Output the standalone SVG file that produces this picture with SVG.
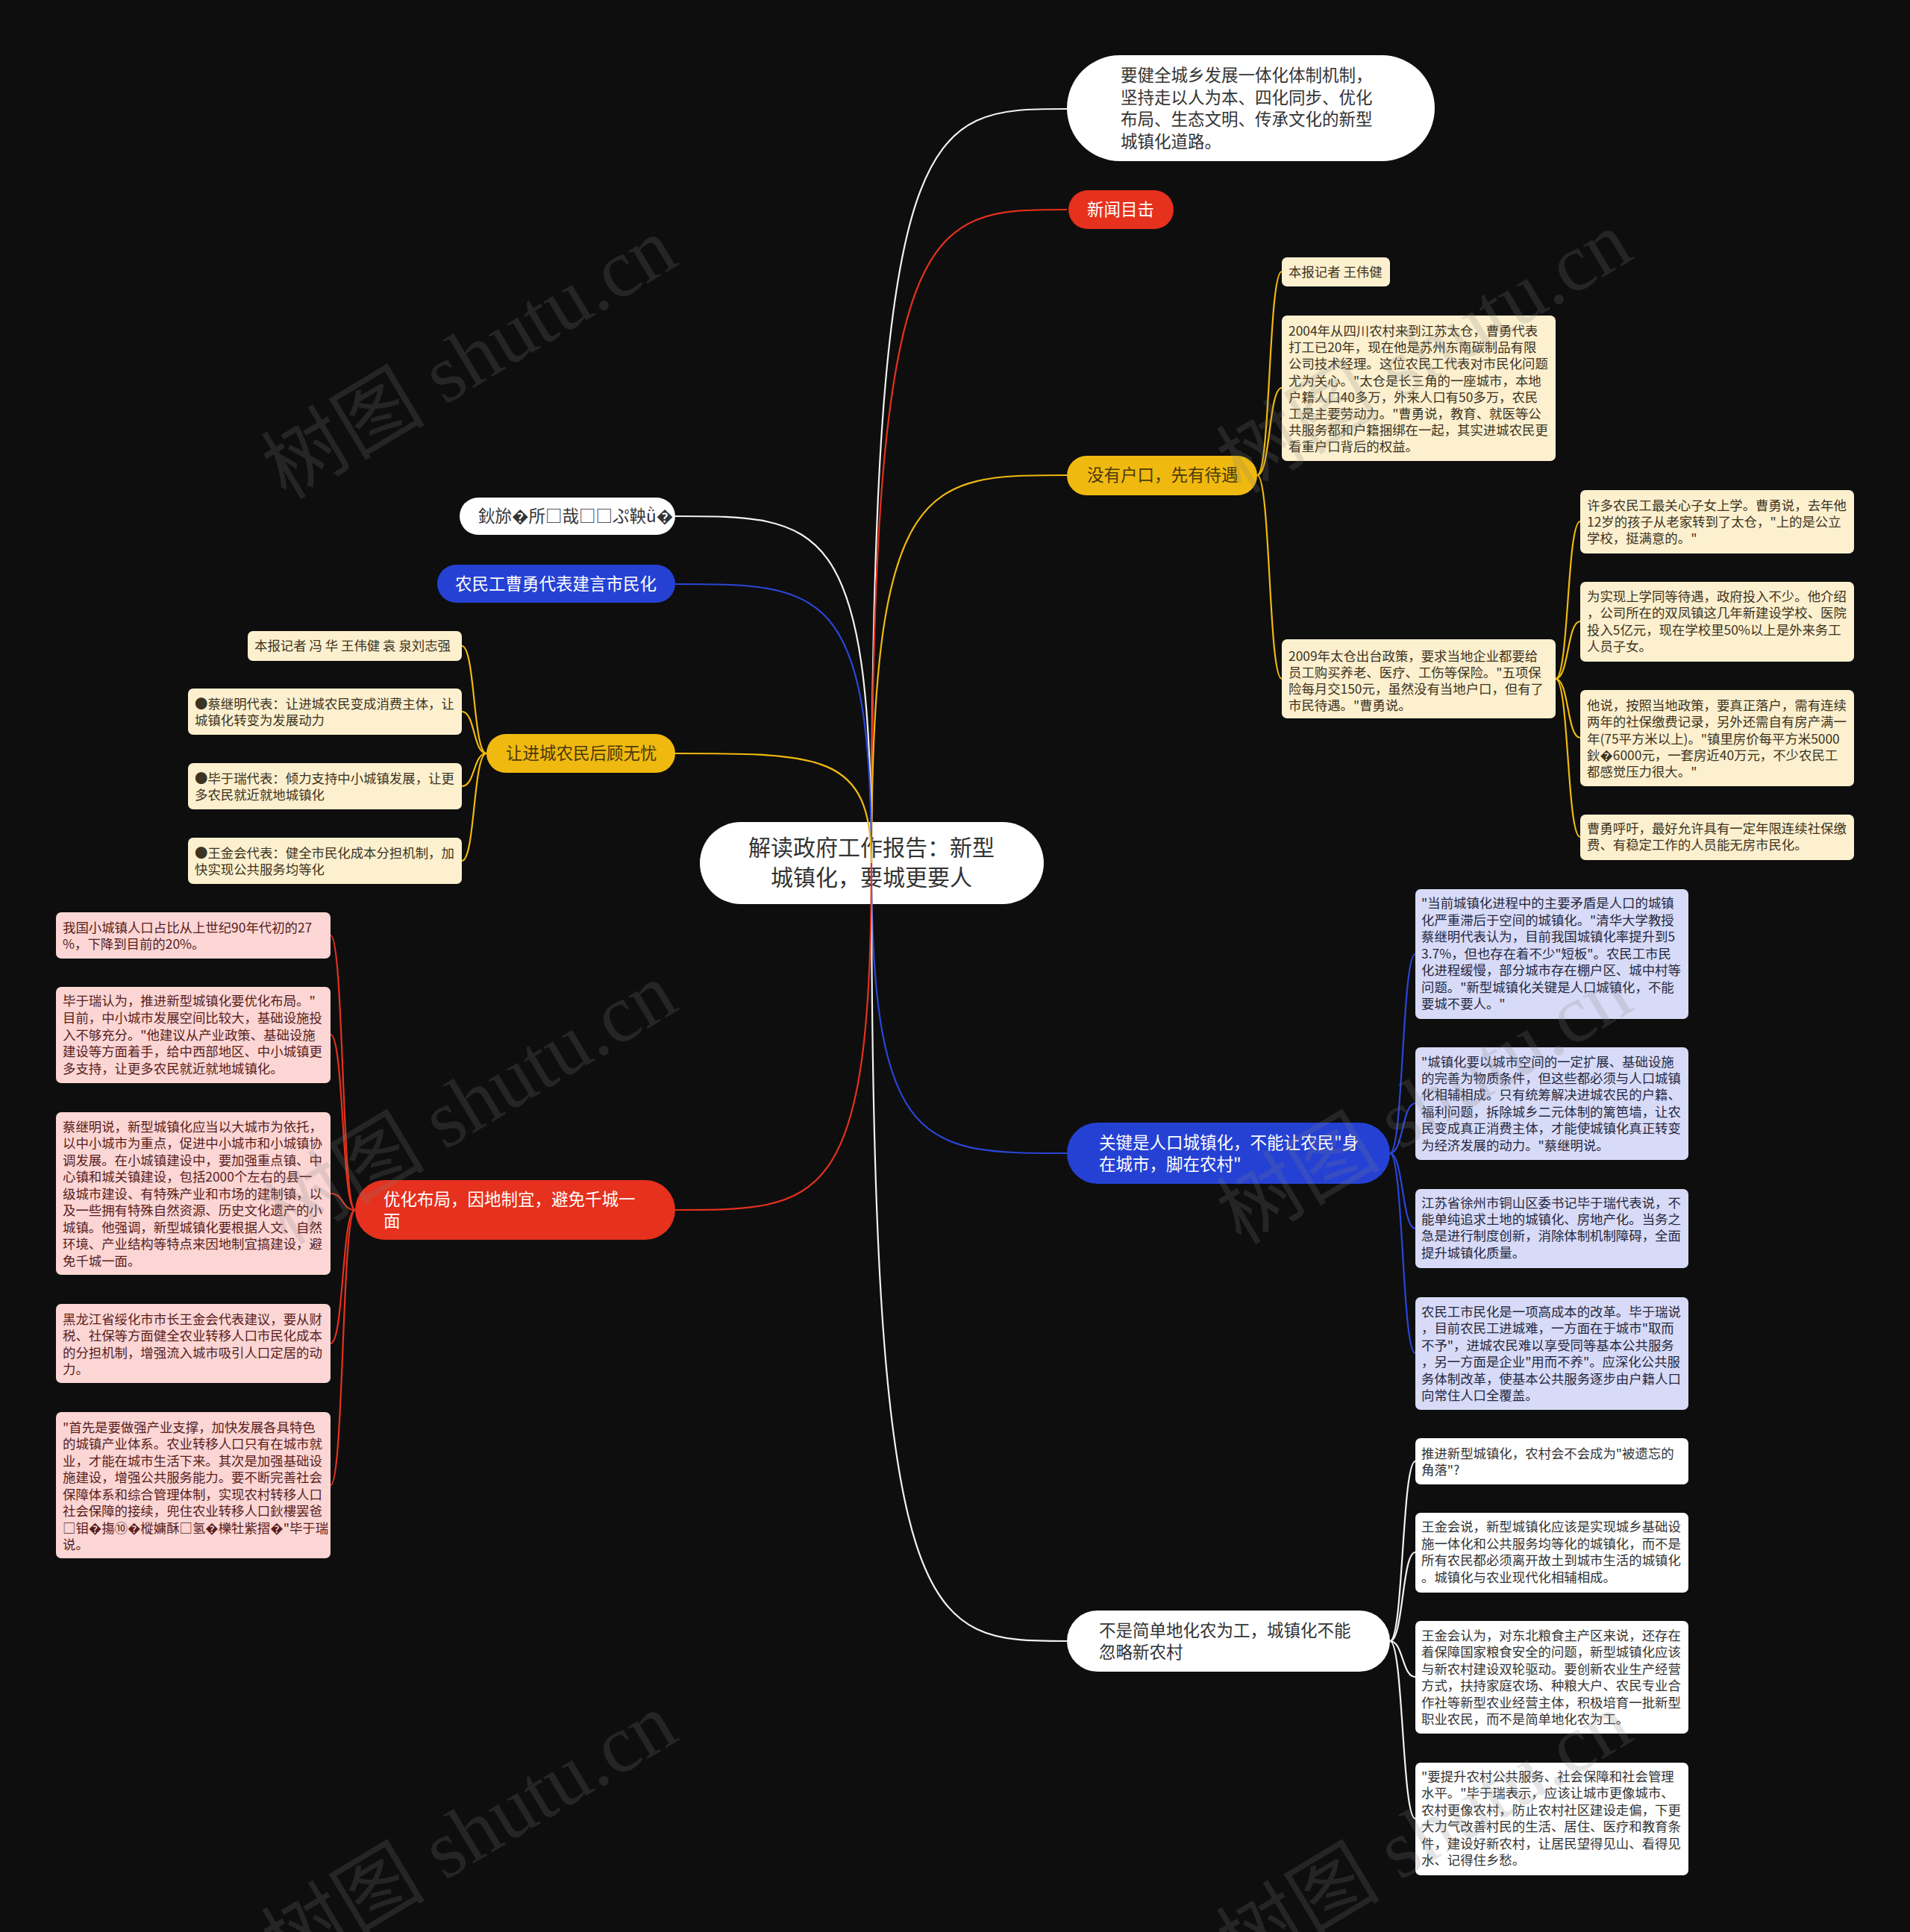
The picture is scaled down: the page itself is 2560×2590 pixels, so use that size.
<svg xmlns="http://www.w3.org/2000/svg" width="2560" height="2590" viewBox="0 0 2560 2590">
<style>
text{font-family:"Noto Sans CJK SC","Noto Sans",sans-serif;}
.main{font-size:22.5px;}
.leaf{font-size:17.4px;}
.center{font-size:30px;fill:#333333;}
.nw{fill:#ffffff;}
.nr{fill:#e5311d;}
.ny{fill:#f0b90f;}
.nb{fill:#2541d4;}
.td{fill:#333333;}
.tw{fill:#ffffff;}
.ty{fill:#4a3a0c;}
.ly{fill:#fcf0cf;}
.lb{fill:#d8dbf7;}
.lp{fill:#fbd6d4;}
.lw{fill:#ffffff;}
.tly{fill:#3c3321;}
.tlb{fill:#25283f;}
.tlp{fill:#581d1d;}
.tlw{fill:#333333;}
.c{fill:none;stroke-width:2.2;}
.cw{stroke:#f2f2f2;}
.cr{stroke:#e5311d;}
.cy{stroke:#f0b90f;}
.cb{stroke:#2a46d8;}
.wm{font-family:"Liberation Serif","Noto Sans CJK SC",serif;font-size:110px;fill:#808080;opacity:0.2;}
</style>
<rect x="0" y="0" width="2560" height="2590" fill="#0e0e0e"/>

<g id="center">
<rect x="938" y="1102" width="461" height="110" rx="55" class="nw"/>
<text class="center" text-anchor="middle"><tspan x="1168" y="1147">解读政府工作报告：新型</tspan><tspan x="1168" y="1187">城镇化，要城更要人</tspan></text>
</g>

<g id="n-top">
<rect x="1430" y="74" width="493" height="142" rx="71" class="nw"/>
<text class="main td"><tspan x="1502" y="109">要健全城乡发展一体化体制机制，</tspan><tspan x="1502" y="139">坚持走以人为本、四化同步、优化</tspan><tspan x="1502" y="168">布局、生态文明、传承文化的新型</tspan><tspan x="1502" y="198">城镇化道路。</tspan></text>
</g>

<g id="n-news">
<rect x="1432" y="255" width="141" height="52" rx="26" class="nr"/>
<text class="main tw" x="1457" y="289">新闻目击</text>
</g>

<g id="n-hukou">
<rect x="1430" y="611" width="255" height="53" rx="26.5" class="ny"/>
<text class="main ty" x="1457" y="645">没有户口，先有待遇</text>
</g>

<g id="l-hk1"><rect x="1718" y="345" width="145" height="39" rx="7" class="ly"/><text class="leaf tly" x="1727" y="371">本报记者 王伟健</text></g>
<g id="l-hk2"><rect x="1718" y="423" width="367" height="195" rx="7" class="ly"/><text class="leaf tly"><tspan x="1727" y="450">2004年从四川农村来到江苏太仓，曹勇代表</tspan><tspan x="1727" y="472">打工已20年，现在他是苏州东南碳制品有限</tspan><tspan x="1727" y="494">公司技术经理。这位农民工代表对市民化问题</tspan><tspan x="1727" y="517">尤为关心。"太仓是长三角的一座城市，本地</tspan><tspan x="1727" y="539">户籍人口40多万，外来人口有50多万，农民</tspan><tspan x="1727" y="561">工是主要劳动力。"曹勇说，教育、就医等公</tspan><tspan x="1727" y="583">共服务都和户籍捆绑在一起，其实进城农民更</tspan><tspan x="1727" y="605">看重户口背后的权益。</tspan></text></g>
<g id="l-hk3"><rect x="1718" y="857" width="367" height="106" rx="7" class="ly"/><text class="leaf tly"><tspan x="1727" y="886">2009年太仓出台政策，要求当地企业都要给</tspan><tspan x="1727" y="908">员工购买养老、医疗、工伤等保险。"五项保</tspan><tspan x="1727" y="930">险每月交150元，虽然没有当地户口，但有了</tspan><tspan x="1727" y="952">市民待遇。"曹勇说。</tspan></text></g>

<g id="l-hk4"><rect x="2118" y="657" width="367" height="85" rx="7" class="ly"/><text class="leaf tly"><tspan x="2127" y="684">许多农民工最关心子女上学。曹勇说，去年他</tspan><tspan x="2127" y="706">12岁的孩子从老家转到了太仓，"上的是公立</tspan><tspan x="2127" y="728">学校，挺满意的。"</tspan></text></g>
<g id="l-hk5"><rect x="2118" y="780" width="367" height="107" rx="7" class="ly"/><text class="leaf tly"><tspan x="2127" y="806">为实现上学同等待遇，政府投入不少。他介绍</tspan><tspan x="2127" y="828">，公司所在的双凤镇这几年新建设学校、医院</tspan><tspan x="2127" y="851">投入5亿元，现在学校里50%以上是外来务工</tspan><tspan x="2127" y="873">人员子女。</tspan></text></g>
<g id="l-hk6"><rect x="2118" y="925" width="367" height="129" rx="7" class="ly"/><text class="leaf tly"><tspan x="2127" y="952">他说，按照当地政策，要真正落户，需有连续</tspan><tspan x="2127" y="974">两年的社保缴费记录，另外还需自有房产满一</tspan><tspan x="2127" y="997">年(75平方米以上)。"镇里房价每平方米5000</tspan><tspan x="2127" y="1019">鈥�6000元，一套房近40万元，不少农民工</tspan><tspan x="2127" y="1041">都感觉压力很大。"</tspan></text></g>
<g id="l-hk7"><rect x="2118" y="1092" width="367" height="61" rx="7" class="ly"/><text class="leaf tly"><tspan x="2127" y="1117">曹勇呼吁，最好允许具有一定年限连续社保缴</tspan><tspan x="2127" y="1139">费、有稳定工作的人员能无房市民化。</tspan></text></g>

<g id="n-key">
<rect x="1430" y="1505" width="433" height="82" rx="41" class="nb"/>
<text class="main tw"><tspan x="1473" y="1540">关键是人口城镇化，不能让农民"身</tspan><tspan x="1473" y="1569">在城市，脚在农村"</tspan></text>
</g>

<g id="l-k1"><rect x="1897" y="1192" width="366" height="174" rx="7" class="lb"/><text class="leaf tlb"><tspan x="1905" y="1217">"当前城镇化进程中的主要矛盾是人口的城镇</tspan><tspan x="1905" y="1240">化严重滞后于空间的城镇化。"清华大学教授</tspan><tspan x="1905" y="1262">蔡继明代表认为，目前我国城镇化率提升到5</tspan><tspan x="1905" y="1285">3.7%，但也存在着不少"短板"。农民工市民</tspan><tspan x="1905" y="1307">化进程缓慢，部分城市存在棚户区、城中村等</tspan><tspan x="1905" y="1330">问题。"新型城镇化关键是人口城镇化，不能</tspan><tspan x="1905" y="1352">要城不要人。"</tspan></text></g>
<g id="l-k2"><rect x="1897" y="1404" width="366" height="151" rx="7" class="lb"/><text class="leaf tlb"><tspan x="1905" y="1430">"城镇化要以城市空间的一定扩展、基础设施</tspan><tspan x="1905" y="1452">的完善为物质条件，但这些都必须与人口城镇</tspan><tspan x="1905" y="1474">化相辅相成。只有统筹解决进城农民的户籍、</tspan><tspan x="1905" y="1497">福利问题，拆除城乡二元体制的篱笆墙，让农</tspan><tspan x="1905" y="1519">民变成真正消费主体，才能使城镇化真正转变</tspan><tspan x="1905" y="1542">为经济发展的动力。"蔡继明说。</tspan></text></g>
<g id="l-k3"><rect x="1897" y="1594" width="366" height="106" rx="7" class="lb"/><text class="leaf tlb"><tspan x="1905" y="1619">江苏省徐州市铜山区委书记毕于瑞代表说，不</tspan><tspan x="1905" y="1641">能单纯追求土地的城镇化、房地产化。当务之</tspan><tspan x="1905" y="1663">急是进行制度创新，消除体制机制障碍，全面</tspan><tspan x="1905" y="1686">提升城镇化质量。</tspan></text></g>
<g id="l-k4"><rect x="1897" y="1739" width="366" height="151" rx="7" class="lb"/><text class="leaf tlb"><tspan x="1905" y="1765">农民工市民化是一项高成本的改革。毕于瑞说</tspan><tspan x="1905" y="1787">，目前农民工进城难，一方面在于城市"取而</tspan><tspan x="1905" y="1810">不予"，进城农民难以享受同等基本公共服务</tspan><tspan x="1905" y="1832">，另一方面是企业"用而不养"。应深化公共服</tspan><tspan x="1905" y="1855">务体制改革，使基本公共服务逐步由户籍人口</tspan><tspan x="1905" y="1877">向常住人口全覆盖。</tspan></text></g>

<g id="n-rural">
<rect x="1430" y="2159" width="433" height="82" rx="41" class="nw"/>
<text class="main td"><tspan x="1473" y="2194">不是简单地化农为工，城镇化不能</tspan><tspan x="1473" y="2223">忽略新农村</tspan></text>
</g>

<g id="l-r1"><rect x="1897" y="1928" width="366" height="62" rx="7" class="lw"/><text class="leaf tlw"><tspan x="1905" y="1955">推进新型城镇化，农村会不会成为"被遗忘的</tspan><tspan x="1905" y="1977">角落"?</tspan></text></g>
<g id="l-r2"><rect x="1897" y="2028" width="366" height="107" rx="7" class="lw"/><text class="leaf tlw"><tspan x="1905" y="2053">王金会说，新型城镇化应该是实现城乡基础设</tspan><tspan x="1905" y="2076">施一体化和公共服务均等化的城镇化，而不是</tspan><tspan x="1905" y="2098">所有农民都必须离开故土到城市生活的城镇化</tspan><tspan x="1905" y="2121">。城镇化与农业现代化相辅相成。</tspan></text></g>
<g id="l-r3"><rect x="1897" y="2173" width="366" height="151" rx="7" class="lw"/><text class="leaf tlw"><tspan x="1905" y="2199">王金会认为，对东北粮食主产区来说，还存在</tspan><tspan x="1905" y="2221">着保障国家粮食安全的问题，新型城镇化应该</tspan><tspan x="1905" y="2244">与新农村建设双轮驱动。要创新农业生产经营</tspan><tspan x="1905" y="2266">方式，扶持家庭农场、种粮大户、农民专业合</tspan><tspan x="1905" y="2289">作社等新型农业经营主体，积极培育一批新型</tspan><tspan x="1905" y="2311">职业农民，而不是简单地化农为工。</tspan></text></g>
<g id="l-r4"><rect x="1897" y="2363" width="366" height="151" rx="7" class="lw"/><text class="leaf tlw"><tspan x="1905" y="2388">"要提升农村公共服务、社会保障和社会管理</tspan><tspan x="1905" y="2410">水平。"毕于瑞表示，应该让城市更像城市、</tspan><tspan x="1905" y="2433">农村更像农村，防止农村社区建设走偏，下更</tspan><tspan x="1905" y="2455">大力气改善村民的生活、居住、医疗和教育条</tspan><tspan x="1905" y="2478">件，建设好新农村，让居民望得见山、看得见</tspan><tspan x="1905" y="2500">水、记得住乡愁。</tspan></text></g>

<g id="n-garbled">
<rect x="616" y="667" width="289" height="50" rx="25" class="nw"/>
<text class="main td" x="641" y="700">鈥旀�所□哉□□ぷ鞅ǜ�</text>
</g>

<g id="n-caoyong">
<rect x="586" y="757" width="319" height="51" rx="25.5" class="nb"/>
<text class="main tw" x="610" y="791">农民工曹勇代表建言市民化</text>
</g>

<g id="n-worry">
<rect x="652" y="984" width="253" height="52" rx="26" class="ny"/>
<text class="main ty" x="678" y="1018">让进城农民后顾无忧</text>
</g>

<g id="l-w1"><rect x="332" y="846" width="287" height="40" rx="7" class="ly"/><text class="leaf tly" x="341" y="872">本报记者 冯 华 王伟健 袁 泉刘志强</text></g>
<g id="l-w2"><rect x="252" y="923" width="367" height="62" rx="7" class="ly"/><text class="leaf tly"><tspan x="261" y="950">●蔡继明代表：让进城农民变成消费主体，让</tspan><tspan x="261" y="972">城镇化转变为发展动力</tspan></text></g>
<g id="l-w3"><rect x="252" y="1023" width="367" height="62" rx="7" class="ly"/><text class="leaf tly"><tspan x="261" y="1050">●毕于瑞代表：倾力支持中小城镇发展，让更</tspan><tspan x="261" y="1072">多农民就近就地城镇化</tspan></text></g>
<g id="l-w4"><rect x="252" y="1123" width="367" height="62" rx="7" class="ly"/><text class="leaf tly"><tspan x="261" y="1150">●王金会代表：健全市民化成本分担机制，加</tspan><tspan x="261" y="1172">快实现公共服务均等化</tspan></text></g>

<g id="n-layout">
<rect x="476" y="1582" width="429" height="80" rx="40" class="nr"/>
<text class="main tw"><tspan x="514" y="1616">优化布局，因地制宜，避免千城一</tspan><tspan x="514" y="1645">面</tspan></text>
</g>

<g id="l-p1"><rect x="75" y="1223" width="368" height="62" rx="7" class="lp"/><text class="leaf tlp"><tspan x="84" y="1250">我国小城镇人口占比从上世纪90年代初的27</tspan><tspan x="84" y="1272">%，下降到目前的20%。</tspan></text></g>
<g id="l-p2"><rect x="75" y="1323" width="368" height="129" rx="7" class="lp"/><text class="leaf tlp"><tspan x="84" y="1348">毕于瑞认为，推进新型城镇化要优化布局。"</tspan><tspan x="84" y="1371">目前，中小城市发展空间比较大，基础设施投</tspan><tspan x="84" y="1394">入不够充分。"他建议从产业政策、基础设施</tspan><tspan x="84" y="1416">建设等方面着手，给中西部地区、中小城镇更</tspan><tspan x="84" y="1439">多支持，让更多农民就近就地城镇化。</tspan></text></g>
<g id="l-p3"><rect x="75" y="1491" width="368" height="218" rx="7" class="lp"/><text class="leaf tlp"><tspan x="84" y="1517">蔡继明说，新型城镇化应当以大城市为依托，</tspan><tspan x="84" y="1539">以中小城市为重点，促进中小城市和小城镇协</tspan><tspan x="84" y="1562">调发展。在小城镇建设中，要加强重点镇、中</tspan><tspan x="84" y="1584">心镇和城关镇建设，包括2000个左右的县一</tspan><tspan x="84" y="1607">级城市建设、有特殊产业和市场的建制镇，以</tspan><tspan x="84" y="1629">及一些拥有特殊自然资源、历史文化遗产的小</tspan><tspan x="84" y="1652">城镇。他强调，新型城镇化要根据人文、自然</tspan><tspan x="84" y="1674">环境、产业结构等特点来因地制宜搞建设，避</tspan><tspan x="84" y="1697">免千城一面。</tspan></text></g>
<g id="l-p4"><rect x="75" y="1748" width="368" height="106" rx="7" class="lp"/><text class="leaf tlp"><tspan x="84" y="1775">黑龙江省绥化市市长王金会代表建议，要从财</tspan><tspan x="84" y="1797">税、社保等方面健全农业转移人口市民化成本</tspan><tspan x="84" y="1820">的分担机制，增强流入城市吸引人口定居的动</tspan><tspan x="84" y="1842">力。</tspan></text></g>
<g id="l-p5"><rect x="75" y="1893" width="368" height="196" rx="7" class="lp"/><text class="leaf tlp"><tspan x="84" y="1920">"首先是要做强产业支撑，加快发展各具特色</tspan><tspan x="84" y="1942">的城镇产业体系。农业转移人口只有在城市就</tspan><tspan x="84" y="1965">业，才能在城市生活下来。其次是加强基础设</tspan><tspan x="84" y="1987">施建设，增强公共服务能力。要不断完善社会</tspan><tspan x="84" y="2010">保障体系和综合管理体制，实现农村转移人口</tspan><tspan x="84" y="2032">社会保障的接续，兜住农业转移人口鈥樓罢爸</tspan><tspan x="84" y="2055">□钼�摥⑩�樅嫞酥□氢�櫟牡紫摺�"毕于瑞</tspan><tspan x="84" y="2077">说。</tspan></text></g>

<g id="connectors">
<path class="c cw" d="M1168,1157 C1168,146 1240,146 1430,146"/>
<path class="c cr" d="M1168,1157 C1168,281 1240,281 1430,281"/>
<path class="c cy" d="M1168,1157 C1168,637 1240,637 1430,637"/>
<path class="c cb" d="M1168,1157 C1168,1546 1240,1546 1430,1546"/>
<path class="c cw" d="M1168,1157 C1168,2200 1240,2200 1430,2200"/>
<path class="c cw" d="M1168,1157 C1168,692 1100,692 905,692"/>
<path class="c cb" d="M1168,1157 C1168,783 1100,783 905,783"/>
<path class="c cy" d="M1168,1157 C1168,1010 1100,1010 905,1010"/>
<path class="c cr" d="M1168,1157 C1168,1622 1100,1622 905,1622"/>

<path class="c cy" d="M1685,637 C1703,637 1700,364 1718,364"/>
<path class="c cy" d="M1685,637 C1703,637 1700,520 1718,520"/>
<path class="c cy" d="M1685,637 C1703,637 1700,910 1718,910"/>

<path class="c cy" d="M2085,910 C2103,910 2100,699 2118,699"/>
<path class="c cy" d="M2085,910 C2103,910 2100,833 2118,833"/>
<path class="c cy" d="M2085,910 C2103,910 2100,989 2118,989"/>
<path class="c cy" d="M2085,910 C2103,910 2100,1122 2118,1122"/>

<path class="c cb" d="M1863,1546 C1881,1546 1879,1279 1897,1279"/>
<path class="c cb" d="M1863,1546 C1881,1546 1879,1479 1897,1479"/>
<path class="c cb" d="M1863,1546 C1881,1546 1879,1647 1897,1647"/>
<path class="c cb" d="M1863,1546 C1881,1546 1879,1814 1897,1814"/>

<path class="c cw" d="M1863,2200 C1881,2200 1879,1959 1897,1959"/>
<path class="c cw" d="M1863,2200 C1881,2200 1879,2081 1897,2081"/>
<path class="c cw" d="M1863,2200 C1881,2200 1879,2248 1897,2248"/>
<path class="c cw" d="M1863,2200 C1881,2200 1879,2438 1897,2438"/>

<path class="c cy" d="M652,1010 C634,1010 637,866 619,866"/>
<path class="c cy" d="M652,1010 C634,1010 637,954 619,954"/>
<path class="c cy" d="M652,1010 C634,1010 637,1054 619,1054"/>
<path class="c cy" d="M652,1010 C634,1010 637,1154 619,1154"/>

<path class="c cr" d="M476,1622 C458,1622 461,1254 443,1254"/>
<path class="c cr" d="M476,1622 C458,1622 461,1387 443,1387"/>
<path class="c cr" d="M476,1622 C458,1622 461,1600 443,1600"/>
<path class="c cr" d="M476,1622 C458,1622 461,1801 443,1801"/>
<path class="c cr" d="M476,1622 C458,1622 461,1991 443,1991"/>
</g>

<g id="watermarks">
<text class="wm" text-anchor="middle" transform="translate(648,512) rotate(-31)">树图 shutu.cn</text>
<text class="wm" text-anchor="middle" transform="translate(1928,504) rotate(-31)">树图 shutu.cn</text>
<text class="wm" text-anchor="middle" transform="translate(648,1511) rotate(-31)">树图 shutu.cn</text>
<text class="wm" text-anchor="middle" transform="translate(1928,1511) rotate(-31)">树图 shutu.cn</text>
<text class="wm" text-anchor="middle" transform="translate(648,2490) rotate(-31)">树图 shutu.cn</text>
<text class="wm" text-anchor="middle" transform="translate(1928,2490) rotate(-31)">树图 shutu.cn</text>
</g>
</svg>
